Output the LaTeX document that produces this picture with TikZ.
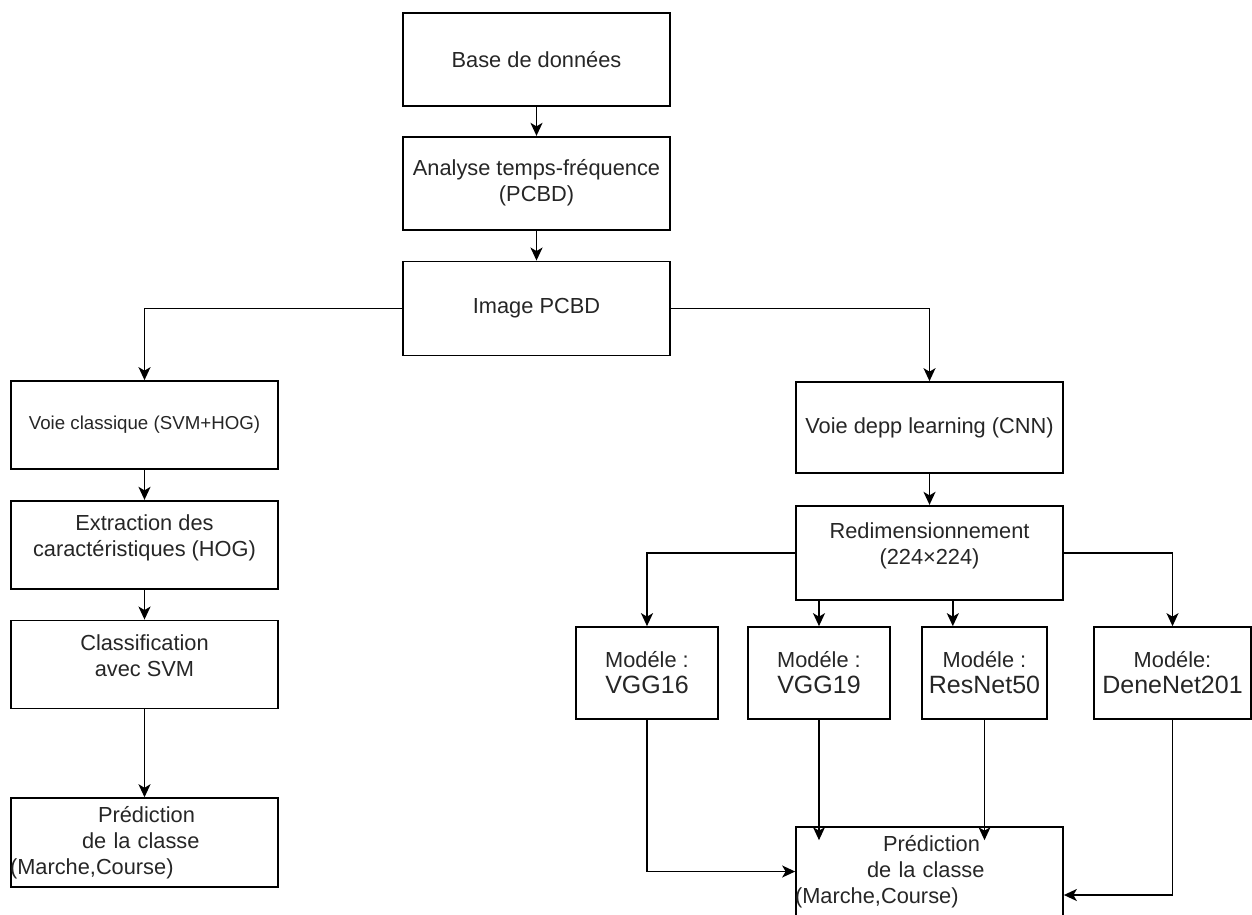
\documentclass[tikz,border=0pt]{standalone}
\usepackage{fontspec}
\setmainfont{Liberation Sans}
\usetikzlibrary{calc}
\usetikzlibrary{positioning}
\usetikzlibrary{arrows.meta}

\newcommand{\mname}[1]{{\fontsize{25}{26}\selectfont #1}}
\newcommand{\predtext}{\hspace*{87pt}Prédiction\\ \hspace*{71pt}de la classe\\ \hspace*{-1pt}(Marche,Course)}

\tikzset{node distance=30pt, % gap between the stacked boxes
  every node/.style={align=center,
    font=\fontsize{21.8}{26}\selectfont,
    text=black!85},
  box/.style={ % every block of the flow chart
    draw, line width=1.7pt,
    minimum width=267pt, minimum height=88pt,
    inner sep=0pt},
  modelbox/.style={box, minimum height=92pt},
  predbox/.style={box, minimum height=89pt, text width=267pt, align=left},
  >={Stealth[length=13pt,width=12pt,inset=3.5pt]},
  flow/.style={->, line width=1.7pt},
  every edge/.style={draw, flow}}

\begin{document}
\begin{tikzpicture}[x=1pt,y=-1pt]
  \useasboundingbox (0,0) rectangle (1252,914);

  % common trunk
  \node [box, minimum height=93pt] (base) at (536.5,59.5) {Base de données};
  \node [box, minimum height=93pt, below=29pt of base] (ana) {Analyse temps-fréquence\\(PCBD)};
  \node [box, minimum height=94pt, below=30pt of ana] (img) {Image PCBD};

  \draw (base) edge (ana) (ana) edge (img);

  % classical way
  \node [box, font=\fontsize{18.7}{22}\selectfont] (vcl) at (144.5,425) {Voie classique (SVM+HOG)};
  \node [box, text depth=19pt, below=30pt of vcl] (ext) {Extraction des\\caractéristiques (HOG)};
  \node [box, text depth=18pt, below=30pt of ext] (cls) {Classification\\avec SVM};
  \node [predbox, below=88pt of cls] (predl) {\predtext};

  \draw [flow] (img.west) -| (vcl.north);
  \draw (vcl) edge (ext) (ext) edge (cls) (cls) edge (predl);

  % deep learning way
  \node [box, minimum height=91pt] (vdl) at (929.5,427.5) {Voie depp learning (CNN)};
  \node [box, minimum height=94pt, text depth=19pt, below=31pt of vdl] (redim) {Redimensionnement\\(224×224)};

  \draw [flow] (img.east) -| (vdl.north);
  \draw (vdl) edge (redim);

  \node [modelbox, minimum width=142pt] (vgg16) at (647,673) {Modéle :\\\mname{VGG16}};
  \node [modelbox, minimum width=142pt] (vgg19) at (819,673) {Modéle :\\\mname{VGG19}};
  \node [modelbox, minimum width=125pt] (resnet) at (984.5,673) {Modéle :\\\mname{ResNet50}};
  \node [modelbox, minimum width=157pt] (dene) at (1172.5,673) {Modéle:\\\mname{DeneNet201}};

  \node [predbox] (predr) at (929.5,871.5) {\predtext};

  \coordinate (rnin) at ($(resnet.north west)!0.25!(resnet.north east)$);
  \draw [flow] (redim.west) -| (vgg16.north);
  \draw [flow] (redim.east) -| (dene.north);
  \draw [flow] (redim.south -| vgg19.north) -- (vgg19.north);
  \draw [flow] (redim.south -| rnin) -- (rnin);

  % models into the prediction
  \coordinate (tipin) at ($(predr.north)+(0,14)$);
  \coordinate (denein) at ($(predr.east)+(0,23.5)$);
  \draw [flow] (vgg16.south) |- (predr.west);
  \draw [flow] (vgg19.south) -- (vgg19.south |- tipin);
  \draw [flow] (resnet.south) -- (resnet.south |- tipin);
  \draw [flow] (dene.south) |- (denein);

\end{tikzpicture}
\end{document}
